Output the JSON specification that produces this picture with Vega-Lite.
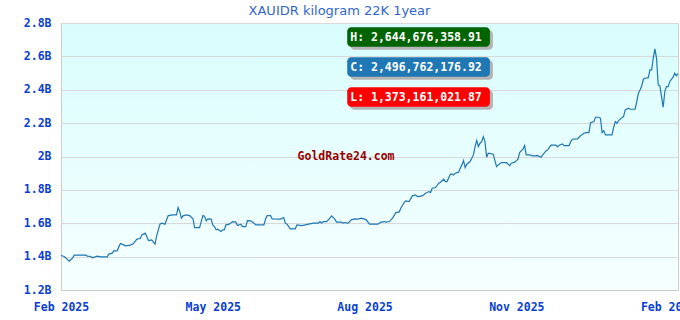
{
  "$schema": "https://vega.github.io/schema/vega-lite/v6.json",
  "width": 617,
  "height": 267,
  "autosize": {"type": "none"},
  "padding": {"left": 61, "top": 23, "right": 2, "bottom": 30},
  "background": "white",
  "title": {
    "text": "XAUIDR kilogram 22K 1year",
    "font": "DejaVu Sans",
    "fontSize": 13,
    "fontWeight": "normal",
    "color": "#3366cc",
    "anchor": "middle",
    "frame": "group",
    "dx": -30,
    "offset": -1
  },
  "config": {
    "view": {
      "stroke": "#cccccc",
      "fill": {
        "gradient": "linear",
        "x1": 0, "y1": 0, "x2": 0, "y2": 1,
        "stops": [
          {"offset": 0, "color": "#d9fdfd"},
          {"offset": 1, "color": "#f6ffff"}
        ]
      }
    },
    "axis": {
      "labelFont": "DejaVu Sans Mono",
      "labelFontWeight": "bold",
      "labelFontSize": 11.5,
      "labelColor": "#0a3fd0",
      "labelOverlap": false,
      "ticks": false,
      "domainColor": "#cccccc",
      "gridColor": "#d9d9d9",
      "title": null
    },
    "axisY": {
      "grid": true,
      "tickCount": 8,
      "labelPadding": 10,
      "labelExpr": "replace(format(datum.value, '~s'), 'G', 'B')"
    }
  },
  "datasets": {
    "prices": [
      {"date": "2025-01-29", "price": 1406600000},
      {"date": "2025-01-31", "price": 1400600000},
      {"date": "2025-02-03", "price": 1373161022},
      {"date": "2025-02-05", "price": 1391000000},
      {"date": "2025-02-06", "price": 1409000000},
      {"date": "2025-02-09", "price": 1409000000},
      {"date": "2025-02-13", "price": 1409000000},
      {"date": "2025-02-14", "price": 1403000000},
      {"date": "2025-02-16", "price": 1400600000},
      {"date": "2025-02-17", "price": 1392800000},
      {"date": "2025-02-20", "price": 1403000000},
      {"date": "2025-02-22", "price": 1398800000},
      {"date": "2025-02-26", "price": 1398800000},
      {"date": "2025-02-27", "price": 1415000000},
      {"date": "2025-03-01", "price": 1421000000},
      {"date": "2025-03-02", "price": 1434700000},
      {"date": "2025-03-04", "price": 1434700000},
      {"date": "2025-03-06", "price": 1478400000},
      {"date": "2025-03-07", "price": 1474900000},
      {"date": "2025-03-09", "price": 1464700000},
      {"date": "2025-03-12", "price": 1468900000},
      {"date": "2025-03-14", "price": 1478400000},
      {"date": "2025-03-16", "price": 1504800000},
      {"date": "2025-03-18", "price": 1508400000},
      {"date": "2025-03-19", "price": 1530500000},
      {"date": "2025-03-21", "price": 1540700000},
      {"date": "2025-03-22", "price": 1520400000},
      {"date": "2025-03-23", "price": 1496400000},
      {"date": "2025-03-25", "price": 1500600000},
      {"date": "2025-03-27", "price": 1474900000},
      {"date": "2025-03-28", "price": 1526300000},
      {"date": "2025-03-30", "price": 1594600000},
      {"date": "2025-03-31", "price": 1600600000},
      {"date": "2025-04-02", "price": 1594600000},
      {"date": "2025-04-04", "price": 1646100000},
      {"date": "2025-04-07", "price": 1650300000},
      {"date": "2025-04-09", "price": 1650300000},
      {"date": "2025-04-10", "price": 1694000000},
      {"date": "2025-04-11", "price": 1670000000},
      {"date": "2025-04-12", "price": 1630500000},
      {"date": "2025-04-13", "price": 1644300000},
      {"date": "2025-04-15", "price": 1650300000},
      {"date": "2025-04-17", "price": 1646100000},
      {"date": "2025-04-19", "price": 1626300000},
      {"date": "2025-04-20", "price": 1574300000},
      {"date": "2025-04-23", "price": 1574300000},
      {"date": "2025-04-24", "price": 1610200000},
      {"date": "2025-04-25", "price": 1646100000},
      {"date": "2025-04-26", "price": 1642500000},
      {"date": "2025-04-27", "price": 1614400000},
      {"date": "2025-04-28", "price": 1626300000},
      {"date": "2025-04-30", "price": 1624500000},
      {"date": "2025-05-01", "price": 1590400000},
      {"date": "2025-05-02", "price": 1580200000},
      {"date": "2025-05-03", "price": 1560500000},
      {"date": "2025-05-04", "price": 1564700000},
      {"date": "2025-05-06", "price": 1550300000},
      {"date": "2025-05-07", "price": 1560500000},
      {"date": "2025-05-08", "price": 1560500000},
      {"date": "2025-05-09", "price": 1590400000},
      {"date": "2025-05-11", "price": 1594600000},
      {"date": "2025-05-13", "price": 1610200000},
      {"date": "2025-05-15", "price": 1606600000},
      {"date": "2025-05-16", "price": 1586200000},
      {"date": "2025-05-18", "price": 1594600000},
      {"date": "2025-05-19", "price": 1580200000},
      {"date": "2025-05-21", "price": 1580200000},
      {"date": "2025-05-22", "price": 1616200000},
      {"date": "2025-05-24", "price": 1614400000},
      {"date": "2025-05-26", "price": 1600600000},
      {"date": "2025-05-27", "price": 1590400000},
      {"date": "2025-06-01", "price": 1590400000},
      {"date": "2025-06-02", "price": 1626300000},
      {"date": "2025-06-03", "price": 1646100000},
      {"date": "2025-06-05", "price": 1646100000},
      {"date": "2025-06-06", "price": 1626300000},
      {"date": "2025-06-11", "price": 1624500000},
      {"date": "2025-06-13", "price": 1634100000},
      {"date": "2025-06-14", "price": 1600600000},
      {"date": "2025-06-15", "price": 1594600000},
      {"date": "2025-06-17", "price": 1566500000},
      {"date": "2025-06-20", "price": 1566500000},
      {"date": "2025-06-21", "price": 1590400000},
      {"date": "2025-06-24", "price": 1586200000},
      {"date": "2025-06-26", "price": 1590400000},
      {"date": "2025-06-28", "price": 1594600000},
      {"date": "2025-07-01", "price": 1600600000},
      {"date": "2025-07-04", "price": 1600600000},
      {"date": "2025-07-05", "price": 1610200000},
      {"date": "2025-07-06", "price": 1600600000},
      {"date": "2025-07-07", "price": 1610200000},
      {"date": "2025-07-09", "price": 1610200000},
      {"date": "2025-07-11", "price": 1630500000},
      {"date": "2025-07-12", "price": 1644300000},
      {"date": "2025-07-14", "price": 1624500000},
      {"date": "2025-07-15", "price": 1606600000},
      {"date": "2025-07-18", "price": 1606600000},
      {"date": "2025-07-19", "price": 1600600000},
      {"date": "2025-07-20", "price": 1604200000},
      {"date": "2025-07-22", "price": 1600600000},
      {"date": "2025-07-24", "price": 1620400000},
      {"date": "2025-07-26", "price": 1626300000},
      {"date": "2025-07-28", "price": 1624500000},
      {"date": "2025-07-30", "price": 1630500000},
      {"date": "2025-08-01", "price": 1624500000},
      {"date": "2025-08-02", "price": 1620400000},
      {"date": "2025-08-04", "price": 1594600000},
      {"date": "2025-08-07", "price": 1594600000},
      {"date": "2025-08-09", "price": 1594600000},
      {"date": "2025-08-11", "price": 1606600000},
      {"date": "2025-08-13", "price": 1610200000},
      {"date": "2025-08-14", "price": 1606600000},
      {"date": "2025-08-16", "price": 1610200000},
      {"date": "2025-08-18", "price": 1630500000},
      {"date": "2025-08-20", "price": 1664100000},
      {"date": "2025-08-22", "price": 1668300000},
      {"date": "2025-08-23", "price": 1690400000},
      {"date": "2025-08-25", "price": 1724000000},
      {"date": "2025-08-26", "price": 1734100000},
      {"date": "2025-08-28", "price": 1729900000},
      {"date": "2025-08-30", "price": 1764100000},
      {"date": "2025-09-01", "price": 1770100000},
      {"date": "2025-09-02", "price": 1759900000},
      {"date": "2025-09-05", "price": 1764100000},
      {"date": "2025-09-07", "price": 1780200000},
      {"date": "2025-09-09", "price": 1789800000},
      {"date": "2025-09-10", "price": 1783800000},
      {"date": "2025-09-11", "price": 1810200000},
      {"date": "2025-09-13", "price": 1813800000},
      {"date": "2025-09-15", "price": 1840100000},
      {"date": "2025-09-16", "price": 1846100000},
      {"date": "2025-09-18", "price": 1864000000},
      {"date": "2025-09-19", "price": 1849700000},
      {"date": "2025-09-20", "price": 1849700000},
      {"date": "2025-09-22", "price": 1894000000},
      {"date": "2025-09-23", "price": 1895800000},
      {"date": "2025-09-24", "price": 1889800000},
      {"date": "2025-09-25", "price": 1900000000},
      {"date": "2025-09-27", "price": 1906000000},
      {"date": "2025-09-28", "price": 1930000000},
      {"date": "2025-09-29", "price": 1949700000},
      {"date": "2025-09-30", "price": 1975400000},
      {"date": "2025-10-01", "price": 1933500000},
      {"date": "2025-10-02", "price": 1953900000},
      {"date": "2025-10-04", "price": 1969500000},
      {"date": "2025-10-06", "price": 2009600000},
      {"date": "2025-10-07", "price": 2059300000},
      {"date": "2025-10-08", "price": 2095200000},
      {"date": "2025-10-09", "price": 2059300000},
      {"date": "2025-10-10", "price": 2079600000},
      {"date": "2025-10-11", "price": 2089200000},
      {"date": "2025-10-12", "price": 2119200000},
      {"date": "2025-10-13", "price": 2089200000},
      {"date": "2025-10-14", "price": 1995800000},
      {"date": "2025-10-15", "price": 2019800000},
      {"date": "2025-10-18", "price": 2013800000},
      {"date": "2025-10-20", "price": 1939500000},
      {"date": "2025-10-21", "price": 1949700000},
      {"date": "2025-10-23", "price": 1963500000},
      {"date": "2025-10-26", "price": 1963500000},
      {"date": "2025-10-28", "price": 1945500000},
      {"date": "2025-10-29", "price": 1959900000},
      {"date": "2025-10-31", "price": 1965900000},
      {"date": "2025-11-02", "price": 1983800000},
      {"date": "2025-11-03", "price": 2023400000},
      {"date": "2025-11-05", "price": 2043700000},
      {"date": "2025-11-06", "price": 2065300000},
      {"date": "2025-11-07", "price": 2009600000},
      {"date": "2025-11-09", "price": 2009600000},
      {"date": "2025-11-11", "price": 2003600000},
      {"date": "2025-11-12", "price": 2003600000},
      {"date": "2025-11-14", "price": 2005400000},
      {"date": "2025-11-16", "price": 1995800000},
      {"date": "2025-11-17", "price": 2009600000},
      {"date": "2025-11-19", "price": 2033500000},
      {"date": "2025-11-20", "price": 2039500000},
      {"date": "2025-11-22", "price": 2067700000},
      {"date": "2025-11-25", "price": 2067700000},
      {"date": "2025-11-26", "price": 2059300000},
      {"date": "2025-11-27", "price": 2067700000},
      {"date": "2025-11-29", "price": 2075400000},
      {"date": "2025-11-30", "price": 2065300000},
      {"date": "2025-12-03", "price": 2065300000},
      {"date": "2025-12-04", "price": 2089200000},
      {"date": "2025-12-05", "price": 2103600000},
      {"date": "2025-12-08", "price": 2105400000},
      {"date": "2025-12-09", "price": 2115600000},
      {"date": "2025-12-10", "price": 2125100000},
      {"date": "2025-12-12", "price": 2139500000},
      {"date": "2025-12-13", "price": 2143100000},
      {"date": "2025-12-15", "price": 2143100000},
      {"date": "2025-12-16", "price": 2203000000},
      {"date": "2025-12-18", "price": 2209000000},
      {"date": "2025-12-19", "price": 2235300000},
      {"date": "2025-12-21", "price": 2235300000},
      {"date": "2025-12-22", "price": 2229300000},
      {"date": "2025-12-23", "price": 2143100000},
      {"date": "2025-12-24", "price": 2155100000},
      {"date": "2025-12-25", "price": 2129300000},
      {"date": "2025-12-29", "price": 2129300000},
      {"date": "2025-12-30", "price": 2175400000},
      {"date": "2025-12-31", "price": 2209000000},
      {"date": "2026-01-01", "price": 2199400000},
      {"date": "2026-01-02", "price": 2215000000},
      {"date": "2026-01-04", "price": 2233000000},
      {"date": "2026-01-05", "price": 2238900000},
      {"date": "2026-01-06", "price": 2279000000},
      {"date": "2026-01-08", "price": 2289200000},
      {"date": "2026-01-09", "price": 2283200000},
      {"date": "2026-01-12", "price": 2283200000},
      {"date": "2026-01-13", "price": 2328700000},
      {"date": "2026-01-14", "price": 2379000000},
      {"date": "2026-01-15", "price": 2398800000},
      {"date": "2026-01-16", "price": 2422800000},
      {"date": "2026-01-17", "price": 2462900000},
      {"date": "2026-01-18", "price": 2468900000},
      {"date": "2026-01-20", "price": 2472500000},
      {"date": "2026-01-21", "price": 2518600000},
      {"date": "2026-01-22", "price": 2518600000},
      {"date": "2026-01-23", "price": 2588600000},
      {"date": "2026-01-24", "price": 2644676359},
      {"date": "2026-01-25", "price": 2588600000},
      {"date": "2026-01-26", "price": 2428700000},
      {"date": "2026-01-27", "price": 2422800000},
      {"date": "2026-01-28", "price": 2358700000},
      {"date": "2026-01-29", "price": 2295200000},
      {"date": "2026-01-30", "price": 2388600000},
      {"date": "2026-01-31", "price": 2418600000},
      {"date": "2026-02-01", "price": 2418600000},
      {"date": "2026-02-02", "price": 2448500000},
      {"date": "2026-02-03", "price": 2462900000},
      {"date": "2026-02-04", "price": 2474900000},
      {"date": "2026-02-05", "price": 2498800000},
      {"date": "2026-02-06", "price": 2484400000},
      {"date": "2026-02-07", "price": 2496762177}
    ],
    "badges": [
      {"kind": "H", "label": "H: 2,644,676,358.91", "start": "2025-07-21T12:00:00Z", "end": "2025-10-16T00:00:00Z", "top": 2774300000, "bottom": 2658100000, "mid": 2716200000},
      {"kind": "C", "label": "C: 2,496,762,176.92", "start": "2025-07-21T12:00:00Z", "end": "2025-10-16T00:00:00Z", "top": 2594600000, "bottom": 2478400000, "mid": 2536500000},
      {"kind": "L", "label": "L: 1,373,161,021.87", "start": "2025-07-21T12:00:00Z", "end": "2025-10-16T00:00:00Z", "top": 2415000000, "bottom": 2298800000, "mid": 2356900000}
    ],
    "watermark": [
      {"date": "2025-06-21T10:00:00Z", "price": 1994600000, "text": "GoldRate24.com"}
    ]
  },
  "layer": [
    {
      "data": {"name": "prices"},
      "mark": {"type": "line", "color": "#1f77b4", "strokeWidth": 1.2},
      "encoding": {
        "x": {
          "field": "date",
          "type": "temporal",
          "scale": {
            "type": "utc",
            "domain": [
              {"year": 2025, "month": 1, "date": 29, "utc": true},
              {"year": 2026, "month": 2, "date": 7, "utc": true}
            ]
          },
          "axis": {
            "values": [
              {"year": 2025, "month": 1, "date": 29, "utc": true},
              {"year": 2025, "month": 5, "date": 1, "utc": true},
              {"year": 2025, "month": 8, "date": 1, "utc": true},
              {"year": 2025, "month": 11, "date": 1, "utc": true},
              {"year": 2026, "month": 2, "date": 1, "utc": true}
            ],
            "labelExpr": "datum.value < utc(2025, 1, 15) ? 'Feb 2025' : utcFormat(datum.value, '%b %Y')",
            "labelFlush": false,
            "labelOverlap": false,
            "labelPadding": 11,
            "grid": false
          }
        },
        "y": {
          "field": "price",
          "type": "quantitative",
          "scale": {"domain": [1200000000, 2800000000], "nice": false, "zero": false}
        }
      }
    },
    {
      "data": {"name": "badges"},
      "mark": {"type": "rect", "cornerRadius": 4, "color": "#b4b4b4", "xOffset": 3, "x2Offset": 3, "yOffset": 3, "y2Offset": 3},
      "encoding": {
        "x": {"field": "start", "type": "temporal"},
        "x2": {"field": "end"},
        "y": {"field": "top", "type": "quantitative"},
        "y2": {"field": "bottom"}
      }
    },
    {
      "data": {"name": "badges"},
      "mark": {"type": "rect", "cornerRadius": 4},
      "encoding": {
        "x": {"field": "start", "type": "temporal"},
        "x2": {"field": "end"},
        "y": {"field": "top", "type": "quantitative"},
        "y2": {"field": "bottom"},
        "color": {
          "field": "kind",
          "type": "nominal",
          "scale": {"domain": ["H", "C", "L"], "range": ["#006400", "#1f77b4", "#ff0000"]},
          "legend": null
        }
      }
    },
    {
      "data": {"name": "badges"},
      "mark": {"type": "text", "align": "left", "baseline": "middle", "dx": 3, "dy": 1, "font": "DejaVu Sans Mono", "fontWeight": "bold", "fontSize": 11.5, "color": "white"},
      "encoding": {
        "x": {"field": "start", "type": "temporal"},
        "y": {"field": "mid", "type": "quantitative"},
        "text": {"field": "label"}
      }
    },
    {
      "data": {"name": "watermark"},
      "mark": {"type": "text", "align": "left", "baseline": "middle", "font": "DejaVu Sans Mono", "fontWeight": "bold", "fontSize": 11.5, "color": "#990000"},
      "encoding": {
        "x": {"field": "date", "type": "temporal"},
        "y": {"field": "price", "type": "quantitative"},
        "text": {"field": "text"}
      }
    }
  ]
}
